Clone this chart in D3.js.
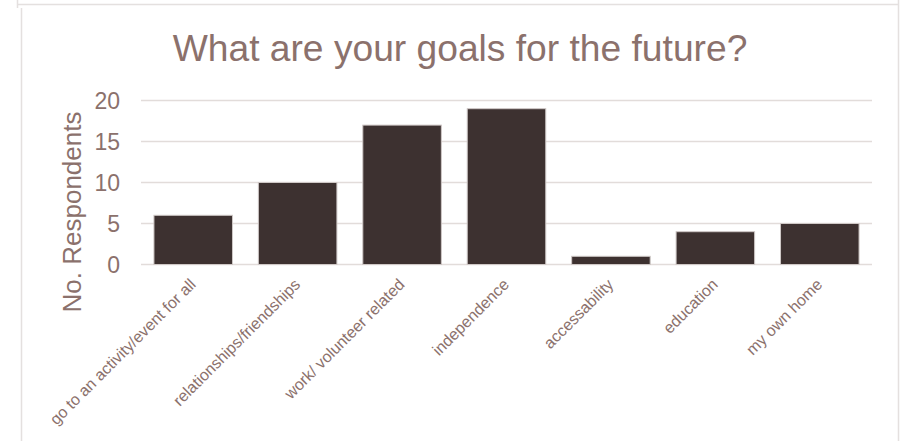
<!DOCTYPE html>
<html>
<head>
<meta charset="utf-8">
<script src="https://cdn.jsdelivr.net/npm/d3@7"></script>
<style>
  html, body { margin: 0; padding: 0; background: #fff; }
  svg { display: block; }
  text { font-family: "Liberation Sans", Arial, sans-serif; }
</style>
</head>
<body>
<svg id="chart" width="902" height="441"></svg>
<script>
// Survey answers: goals for the future
const categories = [
  "go to an activity/event for all",
  "relationships/friendships",
  "work/ volunteer related",
  "independence",
  "accessability",
  "education",
  "my own home"
];
const respondents = [6, 10, 17, 19, 1, 4, 5];
const yTicks = [0, 5, 10, 15, 20];

const textColor = "#8b716c";
const gridColor = "#e2dcda";
const barColor = "#3d3130";

const svg = d3.select("#chart");

// frame lines
const frame = svg.append("g").attr("fill", "none").attr("stroke", "#e4e0df").attr("stroke-width", 1.5);
frame.append("path").attr("d", "M17.5,0 V8 M17.5,4.5 H899");
frame.append("path").attr("d", "M21.5,8 V441");
frame.append("path").attr("d", "M898.5,0 V441");

const margin = { left: 141, right: 872, top: 100.5, bottom: 264.5 };

const x = d3.scaleBand()
  .domain(categories)
  .range([margin.left, margin.right])
  .paddingInner(0.248)
  .paddingOuter(0.124);

const y = d3.scaleLinear()
  .domain([0, 20])
  .range([margin.bottom, margin.top]);

// title
svg.append("text")
  .attr("x", 460)
  .attr("y", 61)
  .attr("text-anchor", "middle")
  .attr("fill", textColor)
  .attr("font-size", 37.2)
  .text("What are your goals for the future?");

// gridlines
svg.append("g")
  .selectAll("line")
  .data(yTicks)
  .join("line")
  .attr("x1", margin.left)
  .attr("x2", margin.right)
  .attr("y1", d => y(d))
  .attr("y2", d => y(d))
  .attr("stroke", gridColor)
  .attr("stroke-width", 1.5);

// y axis labels
const yAxis = d3.axisLeft(y).tickValues(yTicks).tickSize(0).tickPadding(0);
const yg = svg.append("g")
  .attr("transform", `translate(${margin.left - 21},0)`)
  .call(yAxis);
yg.select(".domain").remove();
yg.selectAll("text")
  .attr("fill", textColor)
  .attr("font-size", 23)
  .attr("font-family", "Liberation Sans, Arial, sans-serif")
  .attr("dy", "0.36em");

// y axis title
svg.append("text")
  .attr("transform", "translate(81,212) rotate(-90)")
  .attr("text-anchor", "middle")
  .attr("fill", textColor)
  .attr("font-size", 26)
  .text("No. Respondents");

// bars
svg.append("g")
  .selectAll("rect")
  .data(categories.map((c, i) => ({ c, v: respondents[i] })))
  .join("rect")
  .attr("x", d => x(d.c))
  .attr("y", d => y(d.v))
  .attr("width", x.bandwidth())
  .attr("height", d => y(0) - y(d.v))
  .attr("fill", barColor)
  .attr("stroke", "#cfc8c6")
  .attr("stroke-width", 1);

// category labels, slanted
const xAxis = d3.axisBottom(x).tickSize(0).tickPadding(0);
const xg = svg.append("g")
  .attr("transform", `translate(0,${margin.bottom})`)
  .call(xAxis);
xg.select(".domain").remove();
xg.selectAll("text")
  .attr("fill", textColor)
  .attr("font-size", 16)
  .attr("font-family", "Liberation Sans, Arial, sans-serif")
  .attr("text-anchor", "end")
  .attr("dy", null)
  .attr("y", 0)
  .attr("transform", "translate(3.5,21) rotate(-45)");
</script>
</body>
</html>
